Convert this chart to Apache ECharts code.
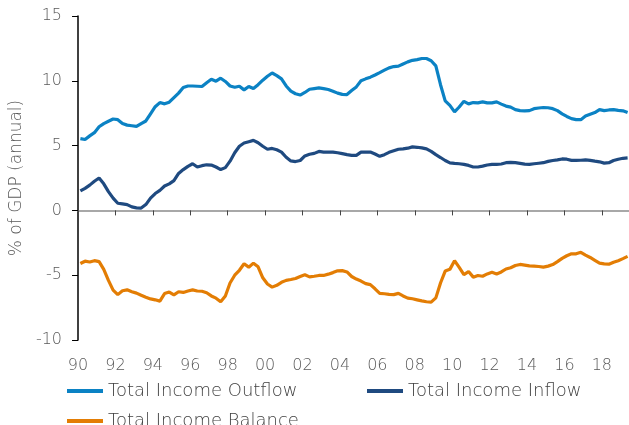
<!DOCTYPE html>
<html>
<head>
<meta charset="utf-8">
<script src="https://cdn.jsdelivr.net/npm/echarts@6/dist/echarts.min.js"></script>
<style>
  html, body { margin: 0; padding: 0; background: #ffffff; }
  #chart { width: 629px; height: 425px; }
</style>
</head>
<body>
<div id="chart"></div>
<script>
// Quarterly series, 1990 Q1 to 2019 Q2, % of GDP (annual)
const startYear = 1990;

const outflow = [
  5.54, 5.47, 5.75, 6.0, 6.45, 6.7, 6.88, 7.05, 7.0, 6.7,
  6.58, 6.53, 6.48, 6.7, 6.9, 7.45, 8.0, 8.32, 8.22, 8.35,
  8.7, 9.05, 9.48, 9.6, 9.6, 9.58, 9.56, 9.85, 10.12, 9.97,
  10.2, 9.95, 9.6, 9.5, 9.58, 9.3, 9.56, 9.4, 9.7, 10.05,
  10.35, 10.6, 10.4, 10.15, 9.6, 9.2, 9.0, 8.9, 9.1, 9.35,
  9.4, 9.45, 9.4, 9.33, 9.2, 9.05, 8.95, 8.94, 9.25, 9.53,
  10.0, 10.15, 10.28, 10.45, 10.63, 10.82, 11.0, 11.1, 11.13, 11.3,
  11.46, 11.58, 11.63, 11.72, 11.72, 11.55, 11.15, 9.7, 8.45, 8.1,
  7.6, 7.98, 8.42, 8.22, 8.32, 8.3, 8.37, 8.3, 8.3, 8.37,
  8.2, 8.05, 7.97, 7.78, 7.7, 7.68, 7.7, 7.85, 7.9, 7.94,
  7.92, 7.85, 7.7, 7.45, 7.25, 7.08, 7.0, 7.0, 7.28, 7.42,
  7.55, 7.78, 7.7, 7.75, 7.78, 7.72, 7.68, 7.55
];

const inflow = [
  1.5, 1.7, 1.95, 2.25, 2.5, 2.05, 1.45, 0.95, 0.55, 0.5,
  0.45, 0.27, 0.2, 0.18, 0.45, 0.95, 1.3, 1.55, 1.88, 2.05,
  2.3, 2.85, 3.15, 3.4, 3.6, 3.35, 3.45, 3.52, 3.5, 3.35,
  3.15, 3.3, 3.8, 4.45, 4.95, 5.2, 5.3, 5.4, 5.22, 4.95,
  4.72, 4.78, 4.68, 4.5, 4.1, 3.82, 3.77, 3.85, 4.2, 4.33,
  4.4, 4.55, 4.5, 4.5, 4.5, 4.45, 4.38, 4.3, 4.25, 4.25,
  4.5, 4.5, 4.5, 4.35, 4.17, 4.3, 4.48, 4.6, 4.72, 4.75,
  4.8, 4.9, 4.87, 4.82, 4.75, 4.55, 4.3, 4.08, 3.85, 3.67,
  3.63, 3.6, 3.55, 3.47, 3.35, 3.35, 3.42, 3.5, 3.55, 3.55,
  3.58, 3.68, 3.7, 3.68, 3.63, 3.57, 3.55, 3.6, 3.64, 3.68,
  3.78, 3.85, 3.9, 3.97, 3.95, 3.86, 3.86, 3.87, 3.9, 3.86,
  3.8, 3.75, 3.65, 3.68, 3.85, 3.95, 4.02, 4.05
];

const balance = [
  -4.1, -3.92, -3.98, -3.88, -3.95, -4.55, -5.4, -6.15, -6.5, -6.2,
  -6.13, -6.28, -6.38, -6.55, -6.7, -6.83, -6.9, -7.0, -6.42, -6.3,
  -6.52, -6.28, -6.33, -6.22, -6.13, -6.22, -6.24, -6.35, -6.6, -6.77,
  -7.05, -6.6, -5.6, -5.0, -4.62, -4.12, -4.38, -4.07, -4.35, -5.2,
  -5.68, -5.92, -5.78, -5.55, -5.4, -5.33, -5.25, -5.1, -4.97, -5.13,
  -5.08, -5.02, -5.02, -4.92, -4.8, -4.66, -4.65, -4.75, -5.1, -5.3,
  -5.45, -5.65, -5.73, -6.05, -6.4, -6.43, -6.48, -6.5, -6.4, -6.6,
  -6.77, -6.82, -6.9, -6.98, -7.05, -7.08, -6.75, -5.6, -4.68, -4.55,
  -3.88, -4.4, -4.95, -4.72, -5.15, -5.02, -5.08, -4.9, -4.77, -4.9,
  -4.75, -4.52, -4.42, -4.25, -4.17, -4.22, -4.28, -4.3, -4.33, -4.38,
  -4.3, -4.18, -3.95, -3.7, -3.5, -3.35, -3.35, -3.23, -3.45, -3.63,
  -3.85, -4.07, -4.12, -4.15, -4.0, -3.88, -3.72, -3.55
];

const seriesNames = ['Total Income Outflow', 'Total Income Inflow', 'Total Income Balance'];
const seriesColors = ['#0b82c4', '#1f4a80', '#e37d04'];
const yTicks = { min: -10, max: 15, interval: 5 };
const xRange = { min: 1990, max: 2019.45, interval: 2 };

// each quarter is placed at its mid-point on a fractional-year axis
function quarterX(i) {
  return startYear + i / 4 + 0.125;
}
function toPairs(values) {
  return values.map((v, i) => [quarterX(i), v]);
}

const fontFamily = '"DejaVu Sans", sans-serif';
const fontWeight = 300;
const textColor = '#595959';

const chart = echarts.init(document.getElementById('chart'), null, { renderer: 'canvas' });

const legendCommon = {
  orient: 'horizontal',
  padding: 0,
  icon: 'rect',
  itemWidth: 36,
  itemHeight: 4,
  textStyle: { fontFamily: fontFamily, fontWeight: fontWeight, fontSize: 18, color: '#404040' },
  selectedMode: false
};

chart.setOption({
  animation: false,
  backgroundColor: '#ffffff',
  grid: { left: 74, right: 0, top: 16, bottom: 85, containLabel: false },
  legend: [
    Object.assign({}, legendCommon, { data: [seriesNames[0]], left: 67, top: 382 }),
    Object.assign({}, legendCommon, { data: [seriesNames[1]], left: 367, top: 382 }),
    Object.assign({}, legendCommon, { data: [seriesNames[2]], left: 67, top: 412 })
  ],
  xAxis: [
    {
      // axis line and ticks drawn along y = 0
      type: 'value',
      min: xRange.min,
      max: xRange.max,
      interval: xRange.interval,
      axisLine: { onZero: true, lineStyle: { color: '#8c8c8c', width: 1.5 } },
      axisTick: { show: true, inside: false, length: 5, lineStyle: { color: '#444444', width: 1 } },
      axisLabel: { show: false },
      splitLine: { show: false }
    },
    {
      // year labels along the bottom of the plot
      type: 'value',
      position: 'bottom',
      min: xRange.min,
      max: xRange.max,
      interval: xRange.interval,
      axisLine: { show: false, onZero: false },
      axisTick: { show: false },
      splitLine: { show: false },
      axisLabel: {
        margin: 18,
        fontFamily: fontFamily,
        fontWeight: fontWeight,
        fontSize: 16,
        color: textColor,
        showMaxLabel: false,
        formatter: v => String(Math.round(v) % 100).padStart(2, '0')
      }
    }
  ],
  yAxis: {
    type: 'value',
    min: yTicks.min,
    max: yTicks.max,
    interval: yTicks.interval,
    name: '% of GDP (annual)',
    nameLocation: 'middle',
    nameGap: 44,
    nameTextStyle: { fontFamily: fontFamily, fontWeight: fontWeight, fontSize: 17, color: textColor },
    axisLine: { show: true, lineStyle: { color: '#000000', width: 1.5 } },
    axisTick: { show: true, inside: false, length: 6, lineStyle: { color: '#000000', width: 1 } },
    axisLabel: { margin: 16, fontFamily: fontFamily, fontWeight: fontWeight, fontSize: 16, color: textColor },
    splitLine: { show: false }
  },
  series: [outflow, inflow, balance].map((values, k) => ({
    name: seriesNames[k],
    type: 'line',
    xAxisIndex: 0,
    data: toPairs(values),
    symbol: 'none',
    smooth: false,
    lineStyle: { color: seriesColors[k], width: 3.2 },
    itemStyle: { color: seriesColors[k] }
  }))
});
</script>
</body>
</html>
